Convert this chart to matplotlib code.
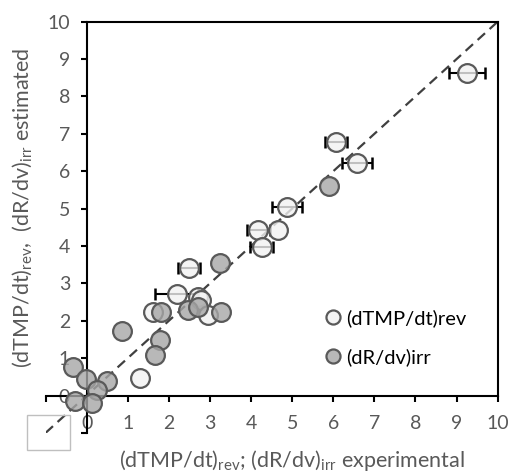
import matplotlib
matplotlib.use('Agg')
import matplotlib.pyplot as plt
from matplotlib.patches import Rectangle
from matplotlib.colors import to_rgba

plt.rcParams['font.family'] = ['Lato', 'DejaVu Sans']
plt.rcParams['mathtext.fontset'] = 'custom'
plt.rcParams['mathtext.rm'] = 'Lato'
plt.rcParams['mathtext.it'] = 'Lato'

# (dTMP/dt)rev : experimental vs estimated, with x error
rev_x = [9.25, 6.07, 6.57, 4.87, 4.18, 4.66, 4.26, 2.49, 2.19, 2.72, 2.78, 2.96, 1.62, 1.30]
rev_y = [8.63, 6.79, 6.23, 5.05, 4.44, 4.44, 3.98, 3.42, 2.71, 2.63, 2.55, 2.15, 2.24, 0.46]
rev_err = [0.43, 0.26, 0.365, 0.365, 0.28, 0.0, 0.28, 0.26, 0.53, 0.0, 0.0, 0.0, 0.0, 0.0]

# (dR/dv)irr
irr_x = [5.90, 3.24, 3.28, 2.47, 2.72, 1.82, 0.85, 1.78, 1.66, -0.33, -0.02, 0.50, 0.24, -0.28, 0.12]
irr_y = [5.60, 3.54, 2.24, 2.30, 2.37, 2.24, 1.73, 1.48, 1.08, 0.77, 0.43, 0.39, 0.15, -0.14, -0.19]

ticks = list(range(-1, 11))
tick_labels = ['' if t < 0 else str(t) for t in ticks]

fig = plt.figure(figsize=(5.12, 4.73), dpi=100)
ax = fig.add_axes([0.089, 0.0848, 0.883, 0.8693])
ax.set_xlim(-1, 10)
ax.set_ylim(-1, 10)

# 1:1 line
ax.plot([-1, 10], [-1, 10], ls=(0, (4.5, 2.8)), color='#404040', lw=1.6, zorder=1)

rev_x_e = [x for x, e in zip(rev_x, rev_err) if e > 0]
rev_y_e = [y for y, e in zip(rev_y, rev_err) if e > 0]
ax.errorbar(rev_x_e, rev_y_e, xerr=[e for e in rev_err if e > 0], fmt='none',
            ecolor='black', elinewidth=1.5, capsize=4, capthick=1.8, zorder=2)

ax.plot(rev_x, rev_y, 'o', ms=13.5, mfc=to_rgba('#f2f2f2', 0.8), mec='#595959',
        mew=1.6, zorder=3, label='(dTMP/dt)rev')
ax.plot(irr_x, irr_y, 'o', ms=13.5, mfc=to_rgba('#a6a6a6', 0.8), mec='#595959',
        mew=1.6, zorder=3, label='(dR/dv)irr')

ax.spines['left'].set_position(('data', 0))
ax.spines['bottom'].set_position(('data', 0))
ax.spines['top'].set_bounds(0, 10)
ax.spines['right'].set_bounds(0, 10)
for s in ax.spines.values():
    s.set_color('black')
    s.set_linewidth(1.5)

ax.set_xticks(ticks)
ax.set_xticklabels(tick_labels)
ax.set_yticks(ticks)
ax.set_yticklabels(tick_labels)
ax.tick_params(axis='x', direction='out', length=4, width=1.5, pad=10,
               labelsize=14, labelcolor='#595959')
ax.tick_params(axis='y', direction='out', length=4, width=1.5, pad=8,
               labelsize=14, labelcolor='#595959')

leg = ax.legend(loc='upper left', bbox_to_anchor=(0.57, 0.345), frameon=False,
                fontsize=14.5, handletextpad=0.05, labelspacing=1.05,
                handlelength=1.2, markerscale=0.75)

fig.text(0.57, 0.027, r'(dTMP/dt)$_{\mathrm{rev}}$; (dR/dv)$_{\mathrm{irr}}$ experimental',
         ha='center', va='center', fontsize=15.5, color='#595959')
fig.text(0.043, 0.56, r'(dTMP/dt)$_{\mathrm{rev}}$,  (dR/dv)$_{\mathrm{irr}}$ estimated',
         ha='center', va='center', rotation=90, fontsize=15.5, color='#595959')

fig.patches.append(Rectangle((27 / 512, 1 - 450 / 473), 43 / 512, 35 / 473,
                             transform=fig.transFigure, fill=False,
                             edgecolor='#bfbfbf', lw=1))

plt.savefig('out.png', dpi=100)
